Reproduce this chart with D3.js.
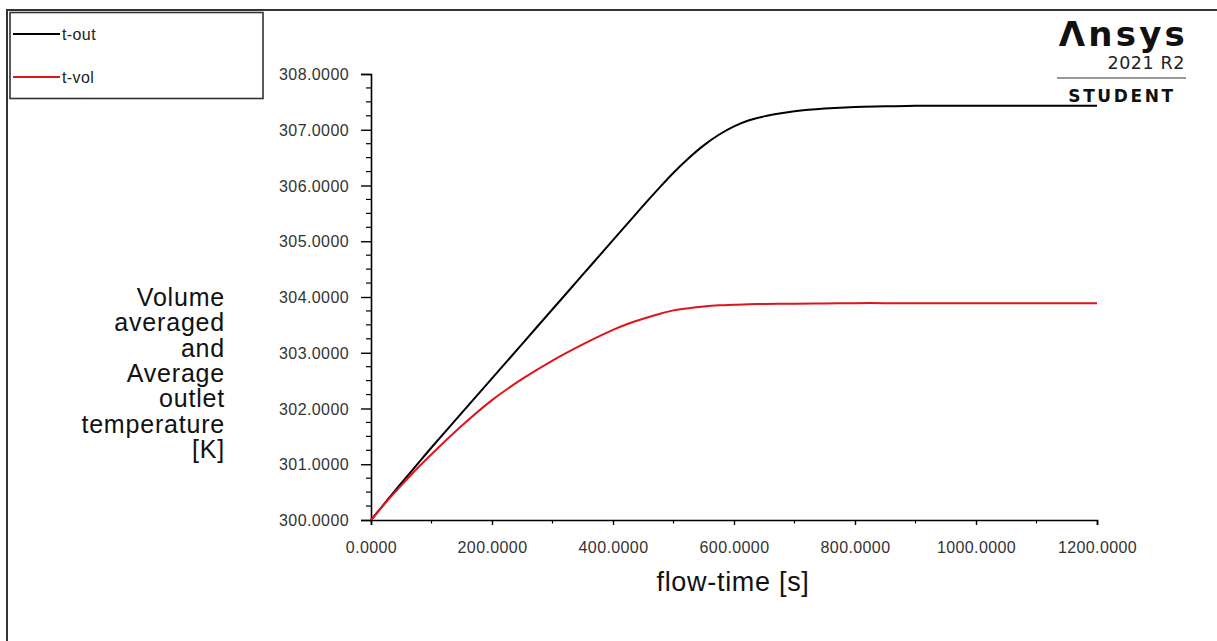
<!DOCTYPE html>
<html>
<head>
<meta charset="utf-8">
<script src="https://cdn.jsdelivr.net/npm/d3@7"></script>
<style>
  html, body { margin: 0; padding: 0; background: #fff; }
  svg { display: block; }
  text { font-family: "Liberation Sans", Arial, sans-serif; }
</style>
</head>
<body>
<svg id="chart" width="1217" height="641"></svg>
<script>
// flow-time samples [s]
const flowTime = [0, 25, 50, 75, 100, 150, 200, 250, 300, 350, 400, 425, 450, 475, 500, 525, 550, 575, 600, 625, 650, 675, 700, 750, 800, 850, 900, 1000, 1100, 1200];
// average outlet temperature [K]
const tOut = [300.00, 300.33, 300.66, 300.98, 301.30, 301.92, 302.54, 303.16, 303.78, 304.40, 305.02, 305.33, 305.64, 305.94, 306.23, 306.49, 306.72, 306.91, 307.06, 307.17, 307.24, 307.29, 307.33, 307.38, 307.41, 307.42, 307.43, 307.43, 307.43, 307.43];
// volume averaged temperature [K]
const tVol = [300.00, 300.32, 300.62, 300.91, 301.18, 301.69, 302.15, 302.53, 302.86, 303.15, 303.41, 303.52, 303.61, 303.69, 303.76, 303.80, 303.83, 303.85, 303.86, 303.87, 303.875, 303.88, 303.88, 303.885, 303.89, 303.89, 303.89, 303.89, 303.89, 303.89];

const xTicks = [0, 200, 400, 600, 800, 1000, 1200];
const yTicks = [300, 301, 302, 303, 304, 305, 306, 307, 308];
const seriesNames = ["t-out", "t-vol"];
const seriesColors = ["#000000", "#e0141c"];
const yTitleLines = ["Volume", "averaged", "and", "Average", "outlet", "temperature", "[K]"];

const svg = d3.select("#chart");

// outer frame (runs off the right and bottom edges)
svg.append("path")
  .attr("d", "M7,641 V10 H1217")
  .attr("fill", "none").attr("stroke", "#333").attr("stroke-width", 2);

const x = d3.scaleLinear().domain([0, 1200]).range([371, 1097]);
const y = d3.scaleLinear().domain([300, 308]).range([520, 74]);

// minor ticks
const g = svg.append("g");
const xMinor = d3.range(0, 1201, 100).filter(v => v % 200 !== 0);
const yMinor = d3.range(300, 308.001, 0.25).filter(v => Math.abs(v - Math.round(v)) > 1e-6);

g.selectAll(".xminor").data(xMinor).join("line")
  .attr("x1", d => x(d)).attr("x2", d => x(d))
  .attr("y1", 520).attr("y2", 523.5)
  .attr("stroke", "#000").attr("stroke-width", 1.2);
g.selectAll(".yminor").data(yMinor).join("line")
  .attr("x1", 371).attr("x2", 366)
  .attr("y1", d => y(d)).attr("y2", d => y(d))
  .attr("stroke", "#000").attr("stroke-width", 1.2);

const tickFont = sel => sel.attr("font-size", 16).attr("fill", "#333")
  .attr("letter-spacing", 0.4)
  .style("font-family", "'Liberation Sans', Arial, sans-serif");

// x axis
const xAxis = d3.axisBottom(x).tickValues(xTicks).tickSize(5).tickPadding(17)
  .tickFormat(d3.format(".4f"));
const gx = svg.append("g").attr("transform", "translate(0,520)").call(xAxis);
gx.select(".domain").attr("stroke", "#000").attr("stroke-width", 1.6);
gx.selectAll(".tick line").attr("stroke", "#000").attr("stroke-width", 1.4);
gx.selectAll(".tick text").call(tickFont);

// y axis
const yAxis = d3.axisLeft(y).tickValues(yTicks).tickSize(10).tickPadding(12)
  .tickFormat(d3.format(".4f"));
const gy = svg.append("g").attr("transform", "translate(371,0)").call(yAxis);
gy.select(".domain").attr("stroke", "#000").attr("stroke-width", 1.6);
gy.selectAll(".tick line").attr("stroke", "#000").attr("stroke-width", 1.4);
gy.selectAll(".tick text").call(tickFont).attr("dy", "0.35em");

// series
const line = d3.line().x(d => x(d[0])).y(d => y(d[1])).curve(d3.curveCatmullRom.alpha(0.5));
[tOut, tVol].forEach((vals, i) => {
  svg.append("path")
    .datum(flowTime.map((t, k) => [t, vals[k]]))
    .attr("d", line)
    .attr("fill", "none")
    .attr("stroke", seriesColors[i])
    .attr("stroke-width", 2);
});

// axis titles
svg.append("text").attr("x", 733).attr("y", 591)
  .attr("text-anchor", "middle").attr("font-size", 27).attr("fill", "#111")
  .attr("letter-spacing", 0.7)
  .text("flow-time [s]");

const yt = svg.append("text").attr("text-anchor", "end").attr("font-size", 25).attr("fill", "#111")
  .attr("letter-spacing", 0.8);
yTitleLines.forEach((s, i) => {
  yt.append("tspan").attr("x", 225).attr("y", 306 + i * 25.3).text(s);
});

// legend
svg.append("rect").attr("x", 10).attr("y", 12.5).attr("width", 253).attr("height", 86)
  .attr("fill", "#fff").attr("stroke", "#333").attr("stroke-width", 1.6);
seriesNames.forEach((name, i) => {
  const ly = 34 + i * 43;
  svg.append("line").attr("x1", 13).attr("x2", 60).attr("y1", ly).attr("y2", ly)
    .attr("stroke", seriesColors[i]).attr("stroke-width", 1.8);
  svg.append("text").attr("x", 62).attr("y", ly + 5.5).attr("font-size", 16).attr("fill", "#222")
    .attr("letter-spacing", 0.4)
    .text(name);
});

// product badge
svg.append("text").attr("x", 1188).attr("y", 46).attr("text-anchor", "end")
  .attr("font-size", 34).attr("font-weight", "bold").attr("fill", "#111")
  .attr("letter-spacing", 3.2)
  .style("font-family", "'DejaVu Sans', sans-serif")
  .text("Λnsys");
svg.append("text").attr("x", 1185).attr("y", 69).attr("text-anchor", "end")
  .attr("font-size", 17.5).attr("fill", "#222").attr("letter-spacing", 0.6)
  .style("font-family", "'DejaVu Sans', sans-serif")
  .text("2021 R2");
svg.append("line").attr("x1", 1057).attr("x2", 1186).attr("y1", 78).attr("y2", 78)
  .attr("stroke", "#333").attr("stroke-width", 1);
svg.append("text").attr("x", 1122).attr("y", 102).attr("text-anchor", "middle")
  .attr("font-size", 17).attr("font-weight", "bold").attr("fill", "#111")
  .attr("letter-spacing", 2.6)
  .style("font-family", "'DejaVu Sans', sans-serif")
  .text("STUDENT");
</script>
</body>
</html>
